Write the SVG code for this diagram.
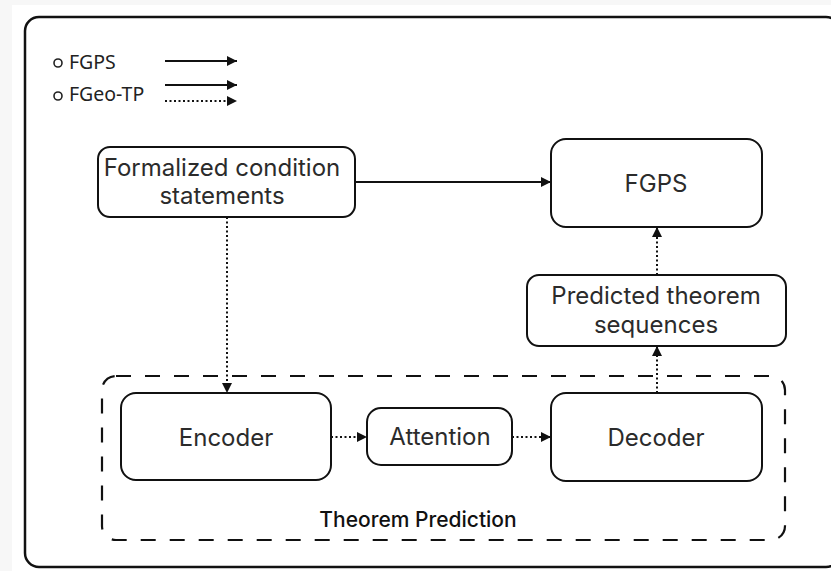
<svg xmlns="http://www.w3.org/2000/svg" width="831" height="571" viewBox="0 0 831 571">
  <style>
    .box { fill: #ffffff; stroke: #111111; stroke-width: 2; }
    .lbl { font-family: Inter, "Noto Sans", "Liberation Sans", sans-serif; font-size: 24px; fill: #2b2b2b; text-anchor: middle; }
    .leg { font-family: "Noto Sans", "Open Sans", "Liberation Sans", sans-serif; font-size: 19.5px; fill: #222222; }
    .solid { fill: none; stroke: #111111; stroke-width: 2; }
    .dot { fill: none; stroke: #111111; stroke-width: 2; stroke-dasharray: 2 2.5; }
    .title { font-family: Inter, "Noto Sans", "Liberation Sans", sans-serif; font-size: 21px; font-weight: 500; fill: #111111; text-anchor: middle; }
  </style>
  <defs>
    <marker id="ah" viewBox="0 0 10 10" refX="10" refY="5" markerWidth="10" markerHeight="10" markerUnits="userSpaceOnUse" orient="auto">
      <path d="M0,0 L10,5 L0,10 z" fill="#111111"/>
    </marker>
  </defs>
  <rect x="0" y="0" width="831" height="571" fill="#ffffff"/>
  <rect x="0" y="0" width="12" height="571" fill="#f7f7f7"/>
  <rect x="0" y="0" width="831" height="5" fill="#f7f7f7"/>

  <g id="frame">
    <rect x="25" y="17" width="815" height="550" rx="14" fill="#ffffff" stroke="#111111" stroke-width="2.5"/>
  </g>

  <g id="legend">
    <circle cx="58" cy="63" r="4" fill="none" stroke="#222222" stroke-width="1.6"/>
    <text class="leg" x="69" y="69">FGPS</text>
    <circle cx="58" cy="96" r="4" fill="none" stroke="#222222" stroke-width="1.6"/>
    <text class="leg" x="69" y="101">FGeo-TP</text>
    <line class="solid" x1="165" y1="61" x2="237" y2="61" marker-end="url(#ah)"/>
    <line class="solid" x1="165" y1="85" x2="237" y2="85" marker-end="url(#ah)"/>
    <line class="dot" x1="165" y1="101" x2="237" y2="101" marker-end="url(#ah)"/>
  </g>

  <g id="theorem-prediction">
    <rect x="102" y="376" width="683" height="164" rx="14" fill="none" stroke="#111111" stroke-width="2.2" stroke-dasharray="15 14"/>
    <text class="title" x="418" y="527">Theorem Prediction</text>
  </g>

  <g id="formalized">
    <rect class="box" x="98" y="147" width="257" height="70" rx="12"/>
    <text class="lbl" x="222" y="176">Formalized condition</text>
    <text class="lbl" x="222" y="204">statements</text>
  </g>

  <g id="fgps">
    <rect class="box" x="551" y="139" width="211" height="88" rx="15"/>
    <text class="lbl" x="656" y="192">FGPS</text>
  </g>

  <g id="predicted">
    <rect class="box" x="527" y="275" width="259" height="71" rx="12"/>
    <text class="lbl" x="656" y="304">Predicted theorem</text>
    <text class="lbl" x="656" y="333">sequences</text>
  </g>

  <g id="encoder">
    <rect class="box" x="121" y="393" width="210" height="87" rx="15"/>
    <text class="lbl" x="226" y="446">Encoder</text>
  </g>

  <g id="attention">
    <rect class="box" x="367" y="408" width="145" height="57" rx="14"/>
    <text class="lbl" x="440" y="445">Attention</text>
  </g>

  <g id="decoder">
    <rect class="box" x="551" y="393" width="211" height="88" rx="15"/>
    <text class="lbl" x="656" y="446">Decoder</text>
  </g>

  <g id="connectors">
    <line class="solid" x1="355" y1="182" x2="551" y2="182" marker-end="url(#ah)"/>
    <line class="dot" x1="227" y1="217" x2="227" y2="393" marker-end="url(#ah)"/>
    <line class="dot" x1="331" y1="437" x2="367" y2="437" marker-end="url(#ah)"/>
    <line class="dot" x1="512" y1="437" x2="551" y2="437" marker-end="url(#ah)"/>
    <line class="dot" x1="657" y1="393" x2="657" y2="346" marker-end="url(#ah)"/>
    <line class="dot" x1="657" y1="275" x2="657" y2="227" marker-end="url(#ah)"/>
  </g>
</svg>
